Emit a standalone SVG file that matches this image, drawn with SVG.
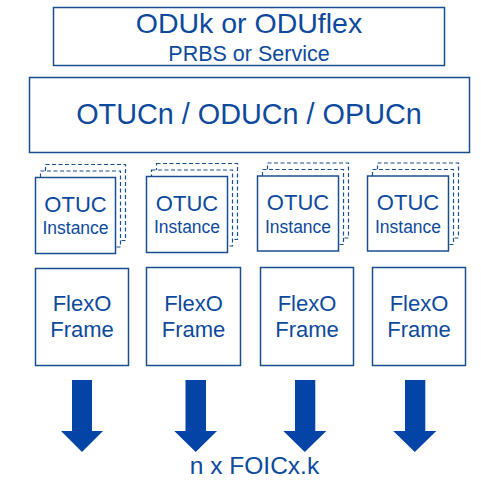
<svg xmlns="http://www.w3.org/2000/svg" width="481" height="488" viewBox="0 0 481 488">
<style>
.box{fill:#fff;stroke:#1a4f8f;stroke-width:1.5}
.dash{fill:#fff;stroke:#1a4f8f;stroke-width:1.2;stroke-dasharray:4 2.5}
text{font-family:"Liberation Sans",Arial,sans-serif;fill:#0d4a9c;text-anchor:middle}
.arrow{fill:#0344a6}
</style>
<rect width="481" height="488" fill="#fff"/>
<g id="client">
<rect class="box" x="53.5" y="7.5" width="391" height="58"/>
<text x="249" y="32.5" font-size="28.5">ODUk or ODUflex</text>
<text x="249" y="60.5" font-size="21.5">PRBS or Service</text>
</g>
<g id="otucn">
<rect class="box" x="29.5" y="77.5" width="440" height="75"/>
<text x="249" y="124" font-size="28.8">OTUCn / ODUCn / OPUCn</text>
</g>
<g id="otuc1">
<rect class="dash" x="45.5" y="164.5" width="80" height="76"/>
<rect class="dash" x="40.5" y="171" width="80" height="76"/>
<rect class="box" x="35.5" y="177.5" width="80" height="76"/>
<text x="75.5" y="211.5" font-size="22">OTUC</text>
<text x="75.5" y="234" font-size="17.5">Instance</text>
</g>
<g id="otuc2">
<rect class="dash" x="156.5" y="163.5" width="81" height="76"/>
<rect class="dash" x="151.5" y="170" width="81" height="76"/>
<rect class="box" x="146.5" y="176.5" width="81" height="76"/>
<text x="187" y="210.5" font-size="22">OTUC</text>
<text x="187" y="233" font-size="17.5">Instance</text>
</g>
<g id="otuc3">
<rect class="dash" x="267.5" y="163" width="81" height="75"/>
<rect class="dash" x="262.5" y="169.5" width="81" height="75"/>
<rect class="box" x="257.5" y="176" width="81" height="75"/>
<text x="298" y="210" font-size="22">OTUC</text>
<text x="298" y="232.5" font-size="17.5">Instance</text>
</g>
<g id="otuc4">
<rect class="dash" x="377.5" y="163" width="81" height="75"/>
<rect class="dash" x="372.5" y="169.5" width="81" height="75"/>
<rect class="box" x="367.5" y="176" width="81" height="75"/>
<text x="408" y="210" font-size="22">OTUC</text>
<text x="408" y="232.5" font-size="17.5">Instance</text>
</g>
<g id="flexo1">
<rect class="box" x="35.5" y="268.5" width="93" height="97"/>
<text x="82" y="310.5" font-size="22">FlexO</text>
<text x="82" y="336.5" font-size="22">Frame</text>
</g>
<g id="flexo2">
<rect class="box" x="146.5" y="267.5" width="94" height="98"/>
<text x="193.5" y="310.5" font-size="22">FlexO</text>
<text x="193.5" y="336.5" font-size="22">Frame</text>
</g>
<g id="flexo3">
<rect class="box" x="260.5" y="267.5" width="93" height="98"/>
<text x="307" y="310.5" font-size="22">FlexO</text>
<text x="307" y="336.5" font-size="22">Frame</text>
</g>
<g id="flexo4">
<rect class="box" x="372.5" y="267.5" width="93" height="98"/>
<text x="419" y="310.5" font-size="22">FlexO</text>
<text x="419" y="336.5" font-size="22">Frame</text>
</g>
<g id="connectors">
<polygon class="arrow" points="72,380 92,380 92,431 103,431 82,452 61,431 72,431"/>
<polygon class="arrow" points="185.5,380 206,380 206,431 217,431 195.7,452 174.3,431 185.5,431"/>
<polygon class="arrow" points="295,380 315.3,380 315.3,431 326.3,431 304.8,452 283.3,431 295,431"/>
<polygon class="arrow" points="405,380 425.3,380 425.3,431 436.3,431 414.8,452 393.3,431 405,431"/>
</g>
<g id="output">
<text x="254.5" y="474.3" font-size="24.5">n x FOICx.k</text>
</g>
</svg>
